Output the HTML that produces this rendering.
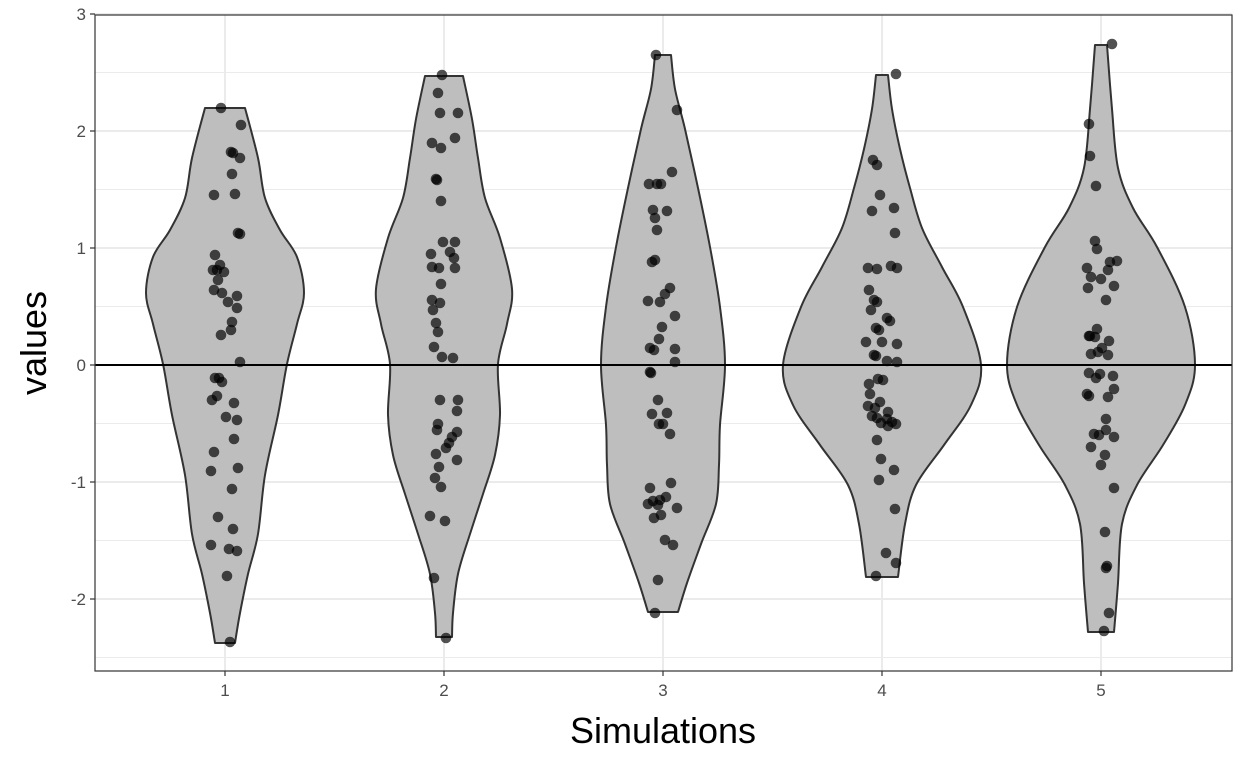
<!DOCTYPE html>
<html><head><meta charset="utf-8"><style>
html,body{margin:0;padding:0;background:#fff;}
svg{display:block;font-family:"Liberation Sans",sans-serif;}
</style></head><body>
<svg id="s" width="1248" height="768" viewBox="0 0 1248 768" xmlns="http://www.w3.org/2000/svg"></svg>
<script>
const s=document.getElementById('s');
let h='';
const L=95,R=1232,T=15,B=671;
const Y=v=>365-117*v;
h+=`<rect x="${L}" y="${T}" width="${R-L}" height="${B-T}" fill="#fff"/>`;
for(let v=-2.5;v<=2.51;v+=1)h+=`<line x1="${L}" x2="${R}" y1="${Y(v)}" y2="${Y(v)}" stroke="#ebebeb" stroke-width="1"/>`;
for(let v=-2;v<=3;v++)h+=`<line x1="${L}" x2="${R}" y1="${Y(v)}" y2="${Y(v)}" stroke="#ebebeb" stroke-width="2"/>`;
const xs=[225,444,663,882,1101];
xs.forEach(x=>h+=`<line x1="${x}" x2="${x}" y1="${T}" y2="${B}" stroke="#ebebeb" stroke-width="2"/>`);
const prof=[
[[108,20],[158,33],[198,40],[230,55],[257,72],[293,79],[324,72],[364,62],[415,53],[475,40],[534,33],[574,23],[613,15],[643,10]],
[[76,19],[119,28],[158,34],[198,41],[238,56],[289,68],[324,63],[364,54],[415,56],[455,51],[494,39],[534,26],[574,14],[613,9],[637,8]],
[[55,8],[89,12],[129,22],[188,35],[247,47],[307,57],[365,62],[425,57],[465,56],[504,53],[544,38],[583,24],[612,15]],
[[75,6],[109,10],[149,18],[188,28],[228,40],[267,60],[307,81],[365,99],[405,89],[445,62],[485,34],[524,23],[577,16]],
[[45,6],[109,11],[168,17],[208,32],[247,56],[307,84],[365,94],[405,84],[445,62],[485,36],[524,21],[583,17],[632,13]]];
function curve(pts){
  let d='';
  for(let i=0;i<pts.length-1;i++){
    const p0=pts[Math.max(0,i-1)],p1=pts[i],p2=pts[i+1],p3=pts[Math.min(pts.length-1,i+2)];
    const c1=[p1[0]+(p2[0]-p0[0])/6,p1[1]+(p2[1]-p0[1])/6];
    const c2=[p2[0]-(p3[0]-p1[0])/6,p2[1]-(p3[1]-p1[1])/6];
    d+=` C${c1[0].toFixed(1)},${c1[1].toFixed(1)} ${c2[0].toFixed(1)},${c2[1].toFixed(1)} ${p2[0]},${p2[1]}`;
  }
  return d;
}
prof.forEach((p,i)=>{const x=xs[i];
 const r=p.map(([y,w])=>[x+w,y]);
 const l=p.slice().reverse().map(([y,w])=>[x-w,y]);
 let d=`M${r[0][0]},${r[0][1]}`+curve(r)+` L${l[0][0]},${l[0][1]}`+curve(l)+'Z';
 h+=`<path d="${d}" fill="#bebebe" stroke="#333" stroke-width="2" stroke-linejoin="round"/>`;});
const P=[[221,108],[241,125],[231,152],[233,153],[240,158],[232,174],[214,195],[235,194],[238,233],[240,234],[215,255],[220,265],[217,270],[213,270],[224,272],[218,280],[214,290],[237,296],[222,293],[228,302],[237,308],[232,322],[231,330],[221,335],[240,362],[219,378],[215,378],[222,382],[217,396],[212,400],[234,403],[226,417],[237,420],[234,439],[214,452],[238,468],[211,471],[232,489],[218,517],[233,529],[229,549],[237,551],[211,545],[227,576],[230,642],
[442,75],[438,93],[440,113],[458,113],[455,138],[432,143],[441,148],[436,179],[437,180],[441,201],[455,242],[443,242],[431,254],[450,252],[454,258],[439,268],[432,267],[455,268],[441,284],[432,300],[440,303],[433,310],[436,323],[438,332],[434,347],[453,358],[442,357],[440,400],[458,400],[457,411],[438,424],[437,430],[457,432],[452,437],[449,443],[446,448],[436,454],[457,460],[439,467],[435,478],[441,487],[430,516],[445,521],[434,578],[446,638],
[656,55],[677,110],[672,172],[649,184],[657,184],[661,184],[653,210],[667,211],[655,218],[657,230],[652,262],[655,260],[670,288],[665,294],[648,301],[660,302],[675,316],[662,327],[659,339],[675,349],[650,348],[654,350],[675,362],[651,373],[650,372],[658,400],[652,414],[667,413],[659,424],[663,424],[670,434],[671,483],[650,488],[666,497],[660,500],[653,501],[658,505],[648,504],[677,508],[654,518],[661,515],[665,540],[673,545],[658,580],[655,613],
[896,74],[873,160],[877,165],[880,195],[894,208],[872,211],[895,233],[868,268],[877,269],[891,266],[897,268],[869,290],[874,300],[877,302],[871,310],[887,318],[879,330],[890,321],[876,328],[866,342],[882,342],[897,344],[874,355],[876,356],[887,361],[897,362],[878,379],[869,384],[883,380],[870,394],[880,402],[868,406],[875,408],[888,412],[887,419],[877,418],[892,422],[872,416],[888,426],[881,423],[896,424],[877,440],[881,459],[894,470],[879,480],[895,509],[886,553],[896,563],[876,576],
[1112,44],[1089,124],[1090,156],[1096,186],[1095,241],[1097,249],[1110,262],[1117,261],[1087,268],[1108,270],[1091,277],[1101,279],[1088,288],[1114,286],[1106,300],[1097,329],[1095,337],[1109,341],[1090,336],[1089,336],[1102,348],[1098,352],[1091,354],[1108,355],[1089,373],[1100,374],[1113,376],[1096,378],[1114,389],[1087,394],[1089,396],[1108,397],[1106,419],[1106,430],[1099,435],[1094,434],[1114,437],[1091,447],[1105,455],[1101,465],[1114,488],[1105,532],[1107,566],[1106,568],[1109,613],[1104,631]];
P.forEach(([x,y])=>h+=`<circle cx="${x}" cy="${y}" r="5.3" fill="#000" fill-opacity="0.68"/>`);
h+=`<line x1="${L}" x2="${R}" y1="365" y2="365" stroke="#000" stroke-width="2"/>`;
h+=`<rect x="${L}" y="${T}" width="${R-L}" height="${B-T}" fill="none" stroke="#333" stroke-width="1.2"/>`;
for(let v=-2;v<=3;v++){h+=`<line x1="${L-5}" x2="${L}" y1="${Y(v)}" y2="${Y(v)}" stroke="#333" stroke-width="1.2"/>`;
h+=`<text x="${L-9}" y="${Y(v)+6}" text-anchor="end" font-size="17" fill="#4d4d4d">${v}</text>`;}
xs.forEach((x,i)=>{h+=`<line x1="${x}" x2="${x}" y1="${B}" y2="${B+5}" stroke="#333" stroke-width="1.2"/>`;
h+=`<text x="${x}" y="${B+25}" text-anchor="middle" font-size="17" fill="#4d4d4d">${i+1}</text>`;});
h+=`<text x="663" y="743" text-anchor="middle" font-size="36" fill="#000">Simulations</text>`;
h+=`<text transform="translate(46,343) rotate(-90)" text-anchor="middle" font-size="36" fill="#000">values</text>`;
s.innerHTML=h;
</script>
</body></html>
